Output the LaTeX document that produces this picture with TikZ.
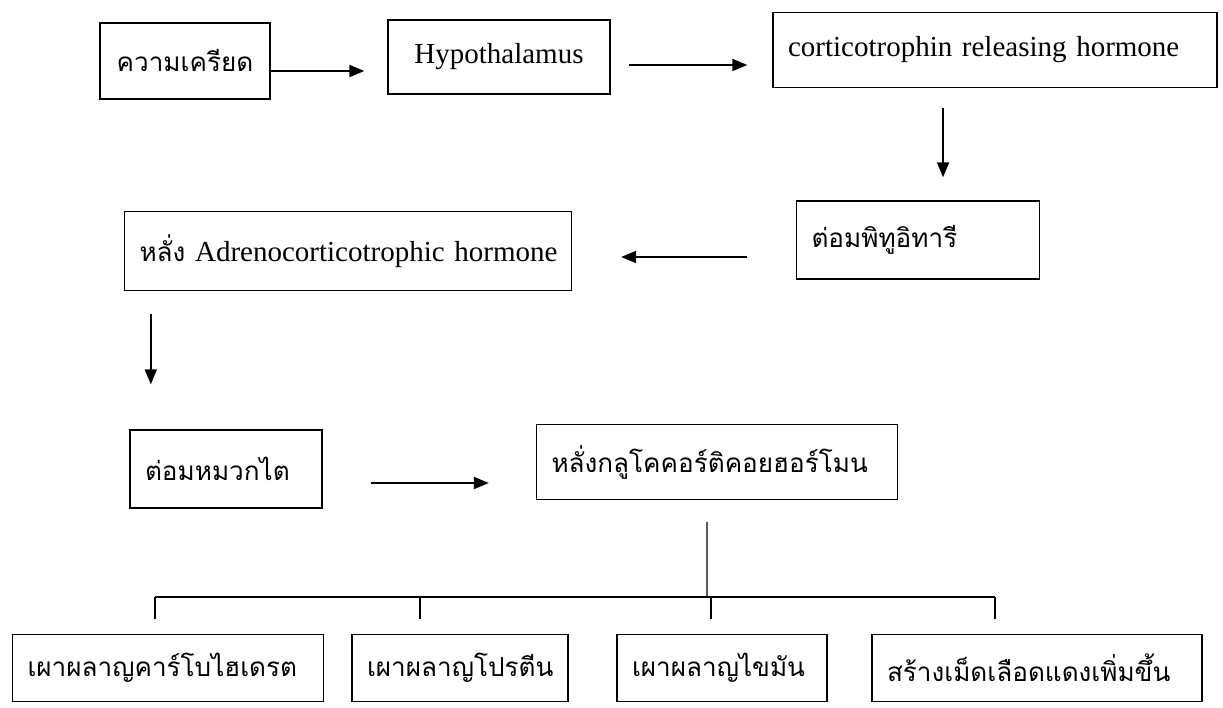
\documentclass[tikz,border=0pt]{standalone}
\usepackage{fontspec}
\setmainfont{Liberation Serif}
\newfontfamily\thaifont[Script=Thai,Scale=0.9]{Loma}
\usetikzlibrary{arrows.meta}
\tikzset{
box/.style={draw, line width=0.8pt, inner xsep=0.3cm, inner ysep=0pt, align=left, font=\fontsize{16.5}{19}\selectfont},
arr/.style={line width=1pt, -{Triangle[length=0.3cm,width=0.24cm]}}
}

\begin{document}
\begin{tikzpicture}[x=0.02cm, y=-0.02cm]
\useasboundingbox (0,0) rectangle (1223,707);
\node[box, text width=2.8cm, minimum height=1.52cm, align=center] (stress) at(185,61) {\thaifont ความเครียด};
\node[box, text width=3.84cm, minimum height=1.48cm, align=center] (hypo) at(499,57) {Hypothalamus};
\node[box, text width=8.28cm, minimum height=1.5cm] (crh) at(995,50) {corticotrophin releasing hormone};
\node[box, text width=4.26cm, minimum height=1.56cm] (pit) at(918,240) {\thaifont ต่อมพิทูอิทารี};
\node[box, text width=8.34cm, minimum height=1.58cm] (acth) at(348,251) {\mbox{{\thaifont หลั่ง} Adrenocorticotrophic hormone}};
\node[box, text width=3.24cm, minimum height=1.56cm] (adrenal) at(226,469) {\thaifont ต่อมหมวกไต};
\node[box, text width=6.62cm, minimum height=1.5cm] (gluco) at(717,462) {\thaifont หลั่งกลูโคคอร์ติคอยฮอร์โมน};
\node[box, text width=5.62cm, minimum height=1.34cm] (b1) at(168,668) {\thaifont เผาผลาญคาร์โบไฮเดรต};
\node[box, text width=3.72cm, minimum height=1.34cm] (b2) at(460,668) {\thaifont เผาผลาญโปรตีน};
\node[box, text width=3.6cm, minimum height=1.34cm] (b3) at(722,668) {\thaifont เผาผลาญไขมัน};
\node[box, text width=6.0cm, minimum height=1.34cm] (b4) at(1037,668) {\thaifont สร้างเม็ดเลือดแดงเพิ่มขึ้น};

\draw[arr, shorten >=0.46cm] ([yshift=-0.2cm]stress.east) -- ([yshift=-0.2cm]stress.east -| hypo.west);
\draw[arr, shorten <=0.36cm, shorten >=0.5cm] ([yshift=-0.16cm]hypo.east) -- ([yshift=-0.16cm]hypo.east -| crh.west);
\draw[arr, shorten <=0.39cm, shorten >=0.46cm] ([xshift=-1.04cm]crh.south) -- ([xshift=-1.04cm]crh.south |- pit.north);
\draw[arr, shorten <=0.98cm, shorten >=0.98cm] ([yshift=-0.12cm]acth.east -| pit.west) -- ([yshift=-0.12cm]acth.east);
\draw[arr, shorten <=0.46cm, shorten >=0.9cm] ([xshift=0.54cm]acth.south west) -- ([xshift=0.54cm]acth.south west |- adrenal.north);
\draw[arr, shorten <=0.96cm, shorten >=0.94cm] ([yshift=-0.28cm]adrenal.east) -- ([yshift=-0.28cm]adrenal.east -| gluco.west);

\coordinate (bar) at (707,597);
\draw[line width=0.8pt, shorten <=0.44cm] ([xshift=-0.2cm]gluco.south) -- (bar);
\draw[line width=0.8pt] (155,597) -- (995,597);
\draw[line width=0.8pt, shorten >=0.3cm] (155,597) -- (155,597 |- b1.north);
\draw[line width=0.8pt, shorten >=0.3cm] (420,597) -- (420,597 |- b2.north);
\draw[line width=0.8pt, shorten >=0.3cm] (711,597) -- (711,597 |- b3.north);
\draw[line width=0.8pt, shorten >=0.3cm] (995,597) -- (995,597 |- b4.north);
\end{tikzpicture}
\end{document}
